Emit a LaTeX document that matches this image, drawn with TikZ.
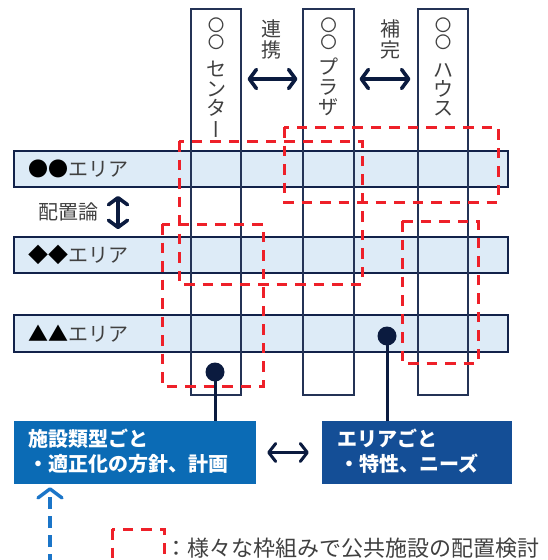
\documentclass[tikz,border=0pt]{standalone}
\usepackage{fontspec}
\setmainfont{Noto Sans CJK JP}
\usetikzlibrary{arrows.meta}
\definecolor{navy}{HTML}{0B1B3F}
\definecolor{rowline}{HTML}{12224A}
\definecolor{colline}{HTML}{243356}
\definecolor{rowfill}{HTML}{DDEBF7}
\definecolor{redd}{HTML}{EE2029}
\definecolor{txtgray}{HTML}{404040}
\definecolor{boxA}{HTML}{0B6BB5}
\definecolor{boxB}{HTML}{144E96}
\definecolor{bluearrow}{HTML}{1B75C8}
\begin{document}
\begin{tikzpicture}[x=1pt,y=-1pt,
  rowbox/.style={draw=rowline, line width=1.8pt, fill=rowfill, minimum width=494pt, minimum height=36pt, inner sep=0pt},
  colbox/.style={draw=colline, line width=1.2pt, minimum width=50pt, minimum height=386pt, inner sep=0pt},
  lbl/.style={font=\fontsize{20pt}{20pt}\selectfont, text=txtgray, inner sep=0pt, text height=17.6pt, text depth=2.4pt, anchor=west},
  vch/.style={font=\fontsize{20pt}{20pt}\selectfont, text=txtgray, inner sep=0pt, text height=17.6pt, text depth=2.4pt},
  vcirc/.style={font=\fontsize{16.5pt}{16.5pt}\selectfont, text=txtgray, inner sep=0pt, text height=13.2pt, text depth=0.7pt},
  reddash/.style={draw=redd, line width=3pt, dash pattern=on 10.5pt off 8pt},
  dotnode/.style={circle, fill=navy, minimum size=19pt, inner sep=0pt},
  stem/.style={draw=navy, line width=3pt},
  boxnode/.style={minimum height=63pt, inner sep=0pt},
  boxtxt/.style={font=\fontsize{20pt}{20pt}\selectfont\bfseries, text=white, inner sep=0pt, text height=17.6pt, text depth=2.4pt, anchor=west},
  dbl/.style={draw=navy, line width=3.6pt, {Straight Barb[length=7pt,width=19pt,round]}-{Straight Barb[length=7pt,width=19pt,round]}},
  dbltwo/.style={draw=navy, line width=3pt, {Straight Barb[length=7pt,width=18pt,round]}-{Straight Barb[length=7pt,width=18pt,round]}},
  bluedash/.style={draw=bluearrow, line width=3.4pt, dash pattern=on 12pt off 7pt, -{Straight Barb[length=9pt,width=24pt,round]}}
]
\useasboundingbox (0,0) rectangle (547,560);

% rows
\node[rowbox] (r1) at (261,169) {};
\node[rowbox] (r2) at (261,255) {};
\node[rowbox, minimum height=37pt] (r3) at (261,333.5) {};
\node[lbl] (l1) at (28,169) {\textcolor{black}{●●}エリア};
\node[lbl] (l2) at (28,255) {\textcolor{black}{◆◆}エリア};
\node[lbl] (l3) at (28,333.5) {\textcolor{black}{▲▲}エリア};

% columns
\node[colbox] (c1) at (216,202) {};
\node[colbox, minimum width=51pt] (c2) at (328.5,202) {};
\node[colbox] (c3) at (443,202) {};

% column texts
\node[vcirc] (c1a) at (216,25.5) {〇};
\node[vcirc] (c1b) at (216,42.5) {〇};
\node[vch] (c1c) at (216,69) {セ};
\node[vch] (c1d) at (216,89) {ン};
\node[vch] (c1e) at (216,108) {タ};
\node[vch, rotate=-90] (c1f) at (216,129) {ー};

\node[vcirc] (c2a) at (328.5,25.5) {〇};
\node[vcirc] (c2b) at (328.5,42.5) {〇};
\node[vch] (c2c) at (328.5,67) {プ};
\node[vch] (c2d) at (328.5,87) {ラ};
\node[vch] (c2e) at (328.5,107) {ザ};

\node[vcirc] (c3a) at (443,25.5) {〇};
\node[vcirc] (c3b) at (443,42.5) {〇};
\node[vch] (c3c) at (443,70) {ハ};
\node[vch] (c3d) at (443,89) {ウ};
\node[vch] (c3e) at (443,108) {ス};

% relation labels
\node[vch] (k1) at (271,29) {連};
\node[vch] (k2) at (271,50) {携};
\node[vch] (k3) at (390,29) {補};
\node[vch] (k4) at (390,50) {完};
\node[lbl] (hai) at (38,212) {配置論};

% arrows between columns / rows
\draw[dbl, shorten <=6pt, shorten >=5pt] ([yshift=123pt]c1.east) -- ([yshift=123pt]c2.west);
\draw[dbl, shorten <=5pt, shorten >=7pt] ([yshift=123pt]c2.east) -- ([yshift=123pt]c3.west);
\draw[dbl, shorten <=8pt, shorten >=7pt] ([xshift=-143pt]r1.south) -- ([xshift=-143pt]r2.north);

% red dashed frames
\draw[reddash] (179,141) rectangle (362,284);
\draw[reddash] (284,127) rectangle (498,202);
\draw[reddash] (162,224) rectangle (263,386);
\draw[reddash] (402,221) rectangle (478,363);

% bottom boxes
\node[boxnode, fill=boxA, minimum width=242pt] (bA) at (135,452.5) {};
\node[boxnode, fill=boxB, minimum width=190pt] (bB) at (417,452.5) {};
\node[boxtxt] (tA1) at (28,439) {施設類型ごと};
\node[boxtxt] (tA2) at (28,464) {・適正化の方針、計画};
\node[boxtxt] (tB1) at (337,439) {エリアごと};
\node[boxtxt] (tB2) at (339,464) {・特性、ニーズ};

% dots and stems
\node[dotnode] (d1) at (215,372) {};
\node[dotnode] (d2) at (387,336) {};
\draw[stem] (d1.center) -- (d1 |- bA.north);
\draw[stem] (d2.center) -- (d2 |- bB.north);

\draw[dbltwo, shorten <=11pt, shorten >=13pt] (bA.east) -- (bB.west);

% blue dashed arrow
\coordinate (bs) at (50,566);
\draw[bluedash, shorten >=3pt] (bs) -- (bs |- bA.south);

% legend
\draw[reddash] (112,529) rectangle (164,580);
\node[lbl, font=\fontsize{22pt}{22pt}\selectfont, text height=19.4pt, text depth=2.6pt] (leg) at (165,548) {：様々な枠組みで公共施設の配置検討};
\end{tikzpicture}
\end{document}
